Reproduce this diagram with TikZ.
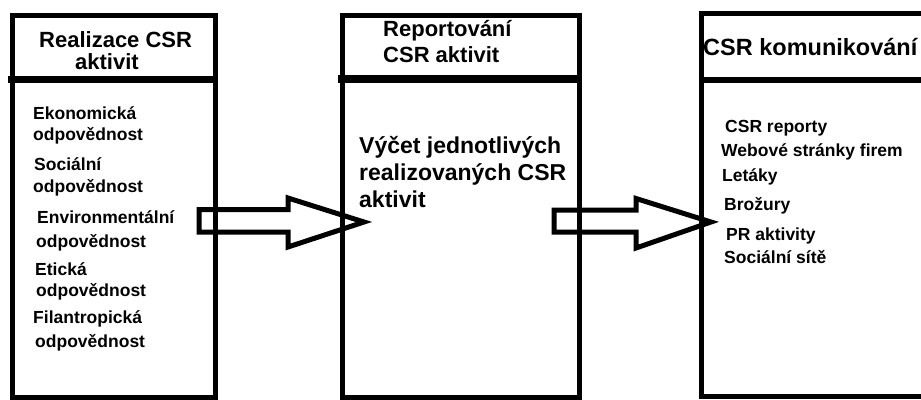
\documentclass[tikz,border=0pt]{standalone}
\usepackage{fontspec}
\setmainfont{Liberation Sans}
\usetikzlibrary{calc}
\begin{document}
\begin{tikzpicture}[x=1pt,y=-1pt,
  frame/.style={draw=black, line width=5pt, inner sep=0pt, outer sep=0pt, anchor=north west},
  divider/.style={draw=black, line width=7pt},
  blockarrow/.style={draw=black, line width=5pt, line join=miter, miter limit=10},
  ttl/.style={font=\fontsize{22}{26}\selectfont\bfseries, anchor=base west, inner sep=0pt},
  body/.style={font=\fontsize{23}{27}\selectfont\bfseries, anchor=base west, inner sep=0pt},
  itm/.style={font=\fontsize{17.5}{21}\selectfont\bfseries, anchor=base west, inner sep=0pt}]
\useasboundingbox (0,0) rectangle (921,399);
\fill[white] (0,0) rectangle (921,399);

% three columns
\node[frame, minimum width=203pt, minimum height=382pt] (b1) at (12.5,15) {};
\node[frame, minimum width=237pt, minimum height=382pt] (b2) at (342,15) {};
\node[frame, minimum width=240pt, minimum height=383pt] (b3) at (701,13) {};

% heading separators
\draw[divider] ($(b1.north west)+(-5,64.5)$) -- ($(b1.north east)+(2.5,64.5)$);
\draw[divider, line width=8.5pt] ($(b2.north west)+(-4,64)$) -- ($(b2.north east)+(2.5,64)$);
\draw[divider, line width=6pt] ($(b3.north west)+(-2.5,67)$) -- ($(b3.north east)+(2.5,67)$);

% headings
\node[ttl] (t1a) at (39,47) {Realizace CSR};
\node[ttl] (t1b) at (75,69) {aktivit};
\node[ttl] (t2a) at (383,36) {Reportování};
\node[ttl] (t2b) at (383,62) {CSR aktivit};
\node[ttl, font=\fontsize{23.5}{27}\selectfont\bfseries] (t3) at (703,55) {CSR komunikování};

% column 1 items
\node[itm] (e1) at (33,119) {Ekonomická};
\node[itm] (e2) at (33,140) {odpovědnost};
\node[itm] (s1) at (34,170) {Sociální};
\node[itm] (s2) at (33,192) {odpovědnost};
\node[itm] (v1) at (37,223) {Environmentální};
\node[itm] (v2) at (36,247) {odpovědnost};
\node[itm] (k1) at (35,275) {Etická};
\node[itm] (k2) at (36,296) {odpovědnost};
\node[itm] (f1) at (33,323) {Filantropická};
\node[itm] (f2) at (35,347) {odpovědnost};

% column 2 text
\node[body] (r1) at (359,153) {Výčet jednotlivých};
\node[body] (r2) at (359,180) {realizovaných CSR};
\node[body] (r3) at (359,207) {aktivit};

% column 3 items
\node[itm] (c1) at (725,132) {CSR reporty};
\node[itm] (c2) at (721,156) {Webové stránky firem};
\node[itm] (c3) at (722,181) {Letáky};
\node[itm] (c4) at (724,210) {Brožury};
\node[itm] (c5) at (726,240) {PR aktivity};
\node[itm] (c6) at (724,263) {Sociální sítě};

% block arrows between the columns
\coordinate (a1tail) at (199,221);
\coordinate (a1tip) at (364,222);
\draw[blockarrow] ($(a1tail)+(0,-11.5)$) -- ($(a1tail)+(89,-11.5)$) -- ($(a1tail)+(89,-23)$)
  -- (a1tip) -- ($(a1tail)+(89,26)$) -- ($(a1tail)+(89,11)$) -- ($(a1tail)+(0,11)$) -- cycle;

\coordinate (a2tail) at (554,221);
\coordinate (a2tip) at (711,222);
\draw[blockarrow] ($(a2tail)+(0,-11)$) -- ($(a2tail)+(82,-11)$) -- ($(a2tail)+(82,-22.5)$)
  -- (a2tip) -- ($(a2tail)+(82,27)$) -- ($(a2tail)+(82,11)$) -- ($(a2tail)+(0,11)$) -- cycle;
\end{tikzpicture}
\end{document}
